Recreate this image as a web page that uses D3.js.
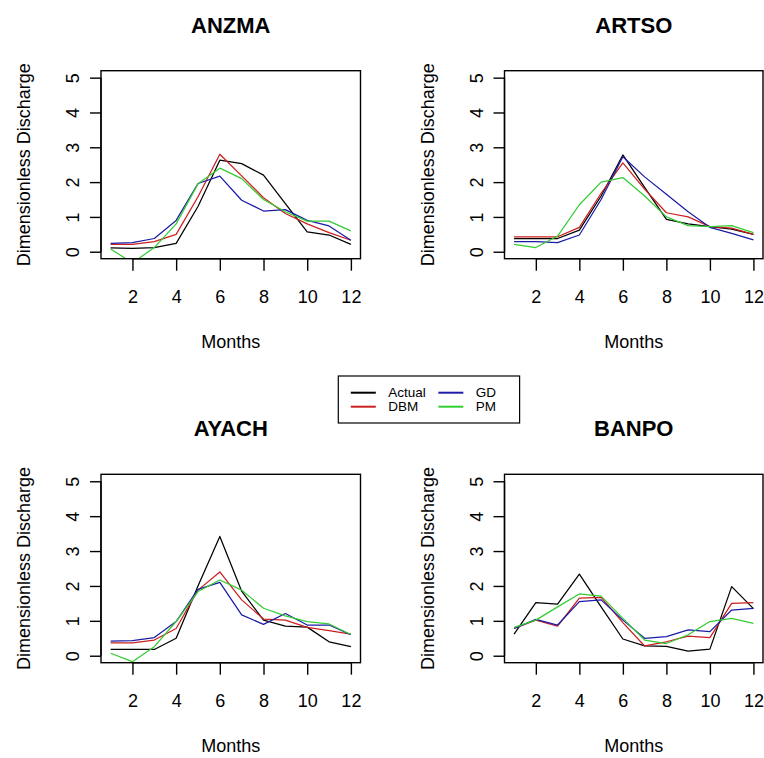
<!DOCTYPE html>
<html>
<head>
<meta charset="utf-8">
<script src="https://cdn.jsdelivr.net/npm/d3@7/dist/d3.min.js"></script>
<style>
  html, body { margin: 0; padding: 0; background: #fff; }
  svg { display: block; }
  text { font-family: "Liberation Sans", Arial, sans-serif; fill: #000; }
</style>
</head>
<body>
<script>
// Monthly dimensionless discharge: observed vs. three model estimates, four stations
const months = [1, 2, 3, 4, 5, 6, 7, 8, 9, 10, 11, 12];
const stations = ["ANZMA", "ARTSO", "AYACH", "BANPO"];
const seriesNames = ["Actual", "DBM", "GD", "PM"];
const seriesColors = ["#000000", "#cc1f1f", "#1c1ca8", "#33cc33"];
const xTicks = [2, 4, 6, 8, 10, 12];
const yTicks = [0, 1, 2, 3, 4, 5];

const anzmaActual = [0.11, 0.10, 0.12, 0.24, 1.30, 2.63, 2.53, 2.20, 1.38, 0.57, 0.48, 0.21];
const anzmaDBM    = [0.21, 0.21, 0.29, 0.50, 1.58, 2.80, 2.18, 1.55, 1.10, 0.80, 0.55, 0.33];
const anzmaGD     = [0.24, 0.26, 0.38, 0.90, 1.96, 2.17, 1.48, 1.17, 1.21, 0.90, 0.74, 0.33];
const anzmaPM     = [0.08, -0.32, 0.12, 0.80, 1.95, 2.40, 2.10, 1.50, 1.15, 0.88, 0.88, 0.60];

const artsoActual = [0.38, 0.38, 0.38, 0.62, 1.60, 2.78, 1.85, 0.93, 0.80, 0.72, 0.65, 0.50];
const artsoDBM    = [0.43, 0.43, 0.43, 0.70, 1.68, 2.55, 1.80, 1.12, 1.00, 0.72, 0.68, 0.50];
const artsoGD     = [0.29, 0.29, 0.26, 0.48, 1.50, 2.73, 2.15, 1.65, 1.15, 0.70, 0.53, 0.34];
const artsoPM     = [0.21, 0.12, 0.45, 1.35, 2.00, 2.13, 1.60, 1.00, 0.75, 0.72, 0.75, 0.55];

const ayachActual = [0.18, 0.18, 0.18, 0.50, 2.00, 3.42, 1.85, 1.02, 0.85, 0.82, 0.40, 0.26];
const ayachDBM    = [0.37, 0.37, 0.45, 0.78, 1.88, 2.40, 1.60, 1.05, 1.02, 0.81, 0.72, 0.62];
const ayachGD     = [0.42, 0.43, 0.52, 0.98, 1.90, 2.10, 1.17, 0.90, 1.21, 0.88, 0.88, 0.60];
const ayachPM     = [0.07, -0.17, 0.26, 0.98, 1.84, 2.17, 1.88, 1.36, 1.14, 0.98, 0.91, 0.61];

const banpoActual = [0.62, 1.52, 1.48, 2.34, 1.40, 0.48, 0.28, 0.27, 0.13, 0.19, 1.98, 1.35];
const banpoDBM    = [0.78, 1.02, 0.85, 1.65, 1.67, 0.95, 0.28, 0.40, 0.56, 0.52, 1.50, 1.52];
const banpoGD     = [0.78, 1.04, 0.88, 1.55, 1.60, 1.02, 0.50, 0.55, 0.74, 0.69, 1.31, 1.36];
const banpoPM     = [0.81, 1.02, 1.40, 1.77, 1.71, 1.07, 0.45, 0.35, 0.60, 0.98, 1.07, 0.93];

const stationSeries = {
  ANZMA: [anzmaActual, anzmaDBM, anzmaGD, anzmaPM],
  ARTSO: [artsoActual, artsoDBM, artsoGD, artsoPM],
  AYACH: [ayachActual, ayachDBM, ayachGD, ayachPM],
  BANPO: [banpoActual, banpoDBM, banpoGD, banpoPM]
};

// plot-region boxes (left, top, right, bottom) for the 2x2 grid
const boxes = [
  { x0: 101, y0: 70.7, x1: 360.5, y1: 258.7 },
  { x0: 504.5, y0: 70.7, x1: 763, y1: 258.7 },
  { x0: 101, y0: 474.3, x1: 360.5, y1: 662.7 },
  { x0: 504.5, y0: 474.3, x1: 763, y1: 662.7 }
];

const W = 764, H = 758;
const svg = d3.select("body").append("svg").attr("width", W).attr("height", H);
const defs = svg.append("defs");

stations.forEach((name, i) => {
  const b = boxes[i];
  // 4% padding of the data range on each side
  const x = d3.scaleLinear().domain([1 - 0.44, 12 + 0.44]).range([b.x0, b.x1]);
  const y = d3.scaleLinear().domain([-0.2, 5.2]).range([b.y1, b.y0]);
  const g = svg.append("g");

  defs.append("clipPath").attr("id", "clip" + i)
    .append("rect").attr("x", b.x0).attr("y", b.y0)
    .attr("width", b.x1 - b.x0).attr("height", b.y1 - b.y0);

  const line = d3.line().x((d, k) => x(months[k])).y(d => y(d));
  const lines = g.append("g").attr("clip-path", `url(#clip${i})`);
  stationSeries[name].forEach((vals, s) => {
    lines.append("path").datum(vals)
      .attr("d", line)
      .attr("fill", "none")
      .attr("stroke", seriesColors[s])
      .attr("stroke-width", 1.25)
      .attr("stroke-linejoin", "round");
  });

  // frame
  g.append("rect").attr("x", b.x0).attr("y", b.y0)
    .attr("width", b.x1 - b.x0).attr("height", b.y1 - b.y0)
    .attr("fill", "none").attr("stroke", "#000").attr("stroke-width", 1.4);

  // x axis
  const xAxis = d3.axisBottom(x).tickValues(xTicks).tickSize(12).tickPadding(20)
    .tickFormat(d3.format("d"));
  const gx = g.append("g").attr("transform", `translate(0,${b.y1})`).call(xAxis);
  gx.select(".domain").attr("d", `M${x(xTicks[0])},0H${x(xTicks[xTicks.length - 1])}`)
    .attr("stroke-width", 1.4);
  gx.selectAll(".tick line").attr("stroke-width", 1.4);
  gx.selectAll(".tick text").attr("font-size", 18).attr("font-family", null);

  // y axis with labels parallel to the axis
  const yAxis = d3.axisLeft(y).tickValues(yTicks).tickSize(11).tickFormat(d3.format("d"));
  const gy = g.append("g").attr("transform", `translate(${b.x0},0)`).call(yAxis);
  gy.select(".domain").attr("d", `M0,${y(yTicks[0])}V${y(yTicks[yTicks.length - 1])}`)
    .attr("stroke-width", 1.4);
  gy.selectAll(".tick line").attr("stroke-width", 1.4);
  gy.selectAll(".tick text")
    .attr("font-size", 18).attr("font-family", null)
    .attr("x", null).attr("dy", null)
    .attr("text-anchor", "middle")
    .attr("transform", "translate(-22,0) rotate(-90)");

  const cx = (b.x0 + b.x1) / 2;
  g.append("text").attr("x", cx).attr("y", b.y0 - 38)
    .attr("text-anchor", "middle").attr("font-size", 22).attr("font-weight", "bold")
    .text(name);
  g.append("text").attr("x", cx).attr("y", b.y1 + 89.5)
    .attr("text-anchor", "middle").attr("font-size", 18)
    .text("Months");
  g.append("text")
    .attr("transform", `translate(${b.x0 - 71},${(b.y0 + b.y1) / 2}) rotate(-90)`)
    .attr("text-anchor", "middle").attr("font-size", 18)
    .text("Dimensionless Discharge");
});

// legend in two columns; column width = widest label + 4 character widths
const leg = svg.append("g");
const legLeft = 338.3, legTop = 376, legBottom = 423;
const rowY = [392.7, 406.7];
const xchar = 12.5;
const legFont = 13.5;
const probe = leg.append("text").attr("font-size", legFont).text("");
const textW = d3.max(seriesNames, nm => { probe.text(nm); return probe.node().getComputedTextLength(); });
probe.remove();
const colW = textW + 4 * xchar;
const legItems = leg.selectAll("g.item").data(seriesNames).join("g").attr("class", "item");
legItems.each(function (nm, k) {
  const col = Math.floor(k / 2), row = k % 2;
  const x0 = legLeft + xchar + col * colW;
  const it = d3.select(this);
  it.append("line")
    .attr("x1", x0).attr("x2", x0 + 2 * xchar)
    .attr("y1", rowY[row]).attr("y2", rowY[row])
    .attr("stroke", seriesColors[k]).attr("stroke-width", 2);
  it.append("text")
    .attr("x", x0 + 3 * xchar).attr("y", rowY[row])
    .attr("dy", "0.35em").attr("font-size", legFont)
    .text(nm);
});
leg.insert("rect", ":first-child")
  .attr("x", legLeft).attr("y", legTop)
  .attr("width", 2 * colW + 0.5 * xchar).attr("height", legBottom - legTop)
  .attr("fill", "#fff").attr("stroke", "#000").attr("stroke-width", 1.2);
</script>
</body>
</html>
